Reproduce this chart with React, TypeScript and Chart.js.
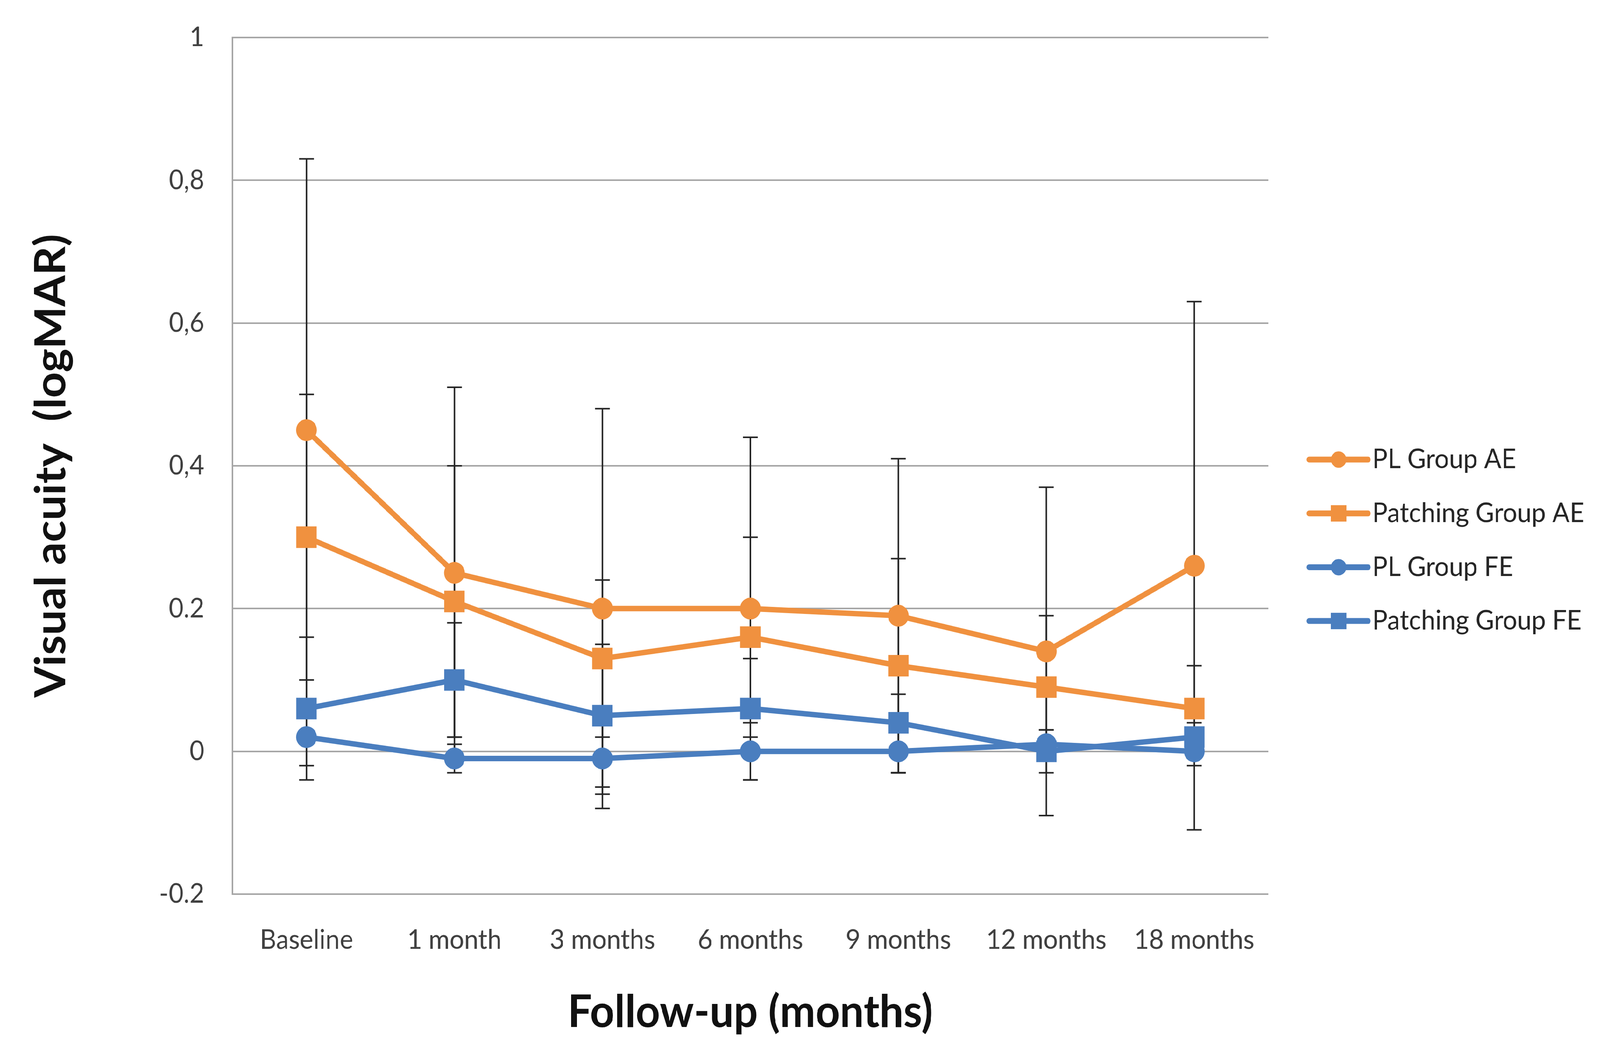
import React, { useEffect, useRef } from "react";
import { Chart, registerables } from "chart.js";
Chart.register(...registerables);

const categories = ["Baseline", "1 month", "3 months", "6 months", "9 months", "12 months", "18 months"];
const seriesNames = ["PL Group AE", "Patching Group AE", "PL Group FE", "Patching Group FE"];
const plGroupAE = [0.45, 0.25, 0.2, 0.2, 0.19, 0.14, 0.26];
const plGroupAESD = [0.38, 0.26, 0.28, 0.24, 0.22, 0.23, 0.37];
const patchingGroupAE = [0.3, 0.21, 0.13, 0.16, 0.12, 0.09, 0.06];
const patchingGroupAESD = [0.2, 0.19, 0.11, 0.14, 0.15, 0.1, 0.06];
const plGroupFE = [0.02, -0.01, -0.01, 0.0, 0.0, 0.01, 0.0];
const plGroupFESD = [0.04, 0.02, 0.05, 0.04, 0.03, 0.02, 0.02];
const patchingGroupFE = [0.06, 0.1, 0.05, 0.06, 0.04, 0.0, 0.02];
const patchingGroupFESD = [0.1, 0.08, 0.1, 0.07, 0.04, 0.03, 0.02];
const yTickValues = [-0.2, 0, 0.2, 0.4, 0.6, 0.8, 1];
const yTickLabels = ["-0.2", "0", "0.2", "0,4", "0,6", "0,8", "1"];

const ORANGE = "#F0913F";
const BLUE = "#4A7EBF";
const FONT = "Lato";
const DESIGN_W = 4322;
const DESIGN_H = 2692;

const seriesValues = [plGroupAE, patchingGroupAE, plGroupFE, patchingGroupFE];
const seriesErrors = [plGroupAESD, patchingGroupAESD, plGroupFESD, patchingGroupFESD];
const seriesColors = [ORANGE, ORANGE, BLUE, BLUE];
const seriesShapes = ["circle", "rect", "circle", "rect"];

const errorBarPlugin = {
  id: "errorBars",
  beforeDatasetsDraw(chart: any) {
    const { ctx, scales } = chart;
    const x = scales.x;
    const y = scales.y;
    ctx.save();
    ctx.strokeStyle = "#262626";
    ctx.lineWidth = 4;
    seriesValues.forEach((vals, si) => {
      const errs = seriesErrors[si];
      vals.forEach((v, i) => {
        const px = x.getPixelForValue(i);
        const top = y.getPixelForValue(v + errs[i]);
        const bot = y.getPixelForValue(v - errs[i]);
        ctx.beginPath();
        ctx.moveTo(px, top);
        ctx.lineTo(px, bot);
        ctx.moveTo(px - 20, top);
        ctx.lineTo(px + 20, top);
        ctx.moveTo(px - 20, bot);
        ctx.lineTo(px + 20, bot);
        ctx.stroke();
      });
    });
    ctx.restore();
  },
};

const legendPlugin = {
  id: "customLegend",
  afterDraw(chart: any) {
    const { ctx } = chart;
    ctx.save();
    const x0 = 3537;
    const x1 = 3695;
    const xm = (x0 + x1) / 2;
    seriesNames.forEach((name, i) => {
      const yy = 1176 + i * 137.7;
      ctx.strokeStyle = seriesColors[i];
      ctx.fillStyle = seriesColors[i];
      ctx.lineWidth = 15;
      ctx.lineCap = "round";
      ctx.beginPath();
      ctx.moveTo(x0, yy);
      ctx.lineTo(x1, yy);
      ctx.stroke();
      if (seriesShapes[i] === "circle") {
        ctx.beginPath();
        ctx.arc(xm, yy, 21, 0, Math.PI * 2);
        ctx.fill();
      } else {
        ctx.fillRect(xm - 21, yy - 21, 42, 42);
      }
      ctx.fillStyle = "#262626";
      ctx.font = `69px ${FONT}`;
      ctx.textAlign = "left";
      ctx.textBaseline = "middle";
      ctx.fillText(name, x1 + 12, yy);
    });
    ctx.restore();
  },
};

export default function App() {
  const ref = useRef<HTMLCanvasElement | null>(null);
  const vw = typeof window !== "undefined" ? window.innerWidth : DESIGN_W;
  const vh = typeof window !== "undefined" ? window.innerHeight : DESIGN_H;
  const kx = vw / DESIGN_W;
  const ky = vh / DESIGN_H;
  useEffect(() => {
    if (!ref.current) return;
    const dpr = (window.devicePixelRatio || 1) * Math.max(kx, ky);
    const chart = new Chart(ref.current, {
      type: "line",
      data: {
        labels: categories,
        datasets: seriesNames.map((name, i) => ({
          label: name,
          data: seriesValues[i],
          borderColor: seriesColors[i],
          backgroundColor: seriesColors[i],
          borderWidth: 14,
          pointStyle: seriesShapes[i] as any,
          pointRadius: seriesShapes[i] === "rect" ? 39 : 28,
          pointBorderWidth: 0,
          pointBackgroundColor: seriesColors[i],
          tension: 0,
          fill: false,
        })),
      },
      plugins: [errorBarPlugin, legendPlugin],
      options: {
        responsive: false,
        animation: false,
        devicePixelRatio: dpr,
        layout: { padding: { top: 96, right: 896, left: 0, bottom: 0 } },
        plugins: { legend: { display: false }, tooltip: { enabled: false } },
        scales: {
          x: {
            type: "category",
            offset: true,
            grid: { display: false, drawTicks: false },
            border: { display: false },
            ticks: {
              font: { family: FONT, size: 69 },
              color: "#404040",
              padding: 76,
              maxRotation: 0,
              autoSkip: false,
            },
            title: {
              display: true,
              text: "Follow-up (months)",
              font: { family: FONT, size: 115, weight: "bold" },
              color: "#111111",
              padding: { top: 0, bottom: 32 },
            },
            afterFit: (s: any) => {
              s.height = 404;
              s.paddingLeft = 0;
              s.paddingRight = 0;
            },
          },
          y: {
            min: -0.2,
            max: 1,
            afterBuildTicks: (s: any) => {
              s.ticks = yTickValues.map((v) => ({ value: v }));
            },
            ticks: {
              font: { family: FONT, size: 69 },
              color: "#404040",
              padding: 76,
              callback: (v: any) => {
                const idx = yTickValues.findIndex((t) => Math.abs(t - Number(v)) < 1e-9);
                return idx >= 0 ? yTickLabels[idx] : "";
              },
            },
            grid: { color: "#a6a6a6", lineWidth: 4, drawTicks: false },
            border: { display: true, color: "#a6a6a6", width: 4 },
            title: {
              display: true,
              text: "Visual acuity  (logMAR)",
              font: { family: FONT, size: 115, weight: "bold" },
              color: "#111111",
              padding: { top: 70, bottom: 0 },
            },
            afterFit: (s: any) => {
              s.width = 628;
              s.paddingTop = 0;
              s.paddingBottom = 0;
            },
          },
        },
      },
    });
    return () => chart.destroy();
  }, []);
  return (
    <div
      style={{
        position: "fixed",
        left: 0,
        top: 0,
        width: DESIGN_W,
        height: DESIGN_H,
        background: "#fff",
        transform: `scale(${kx}, ${ky})`,
        transformOrigin: "0 0",
      }}
    >
      <canvas ref={ref} width={DESIGN_W} height={DESIGN_H} style={{ width: DESIGN_W, height: DESIGN_H }} />
    </div>
  );
}
